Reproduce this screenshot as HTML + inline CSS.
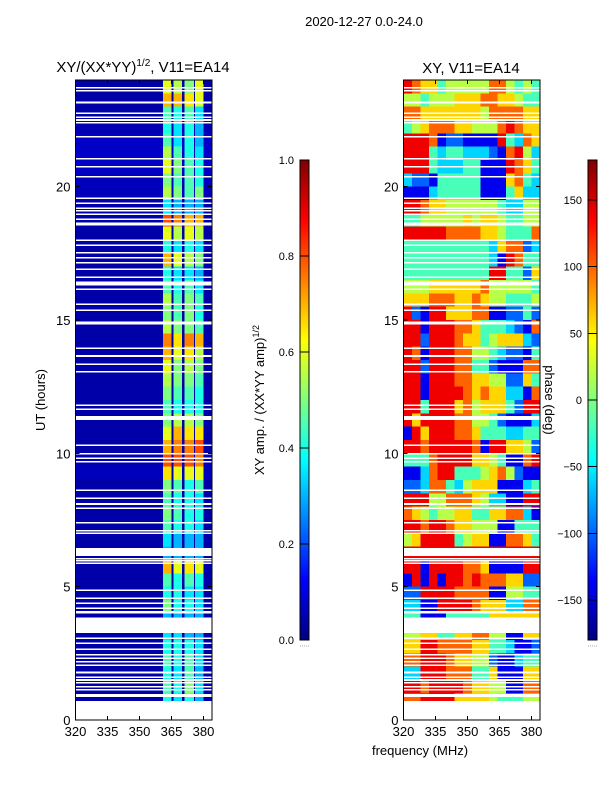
<!DOCTYPE html>
<html><head><meta charset="utf-8"><style>
body{margin:0;background:#fff;}
svg text{font-family:"Liberation Sans","DejaVu Sans",sans-serif;fill:#000;}
</style></head><body>
<svg id="fig" width="600" height="800" viewBox="0 0 600 800" xmlns="http://www.w3.org/2000/svg" shape-rendering="crispEdges">
<text x="364" y="26" font-size="13" text-anchor="middle">2020-12-27 0.0-24.0</text>
<text x="143" y="72" font-size="15" text-anchor="middle">XY/(XX*YY)<tspan font-size="10" dy="-6">1/2</tspan><tspan dy="6">, V11=EA14</tspan></text>
<text x="471" y="73" font-size="15" text-anchor="middle">XY, V11=EA14</text>
<text x="45" y="400" font-size="13" text-anchor="middle" transform="rotate(-90 45 400)">UT (hours)</text>
<text x="420" y="755" font-size="13" text-anchor="middle">frequency (MHz)</text>
<text x="264" y="400" font-size="13" text-anchor="middle" transform="rotate(-90 264 400)">XY amp. / (XX*YY amp)<tspan font-size="9" dy="-5">1/2</tspan></text>
<text x="545" y="400" font-size="13" text-anchor="middle" transform="rotate(90 545 400)">phase (deg)</text>
<defs>
<linearGradient id="jet" x1="0" y1="1" x2="0" y2="0">
<stop offset="0" stop-color="#00007f"/><stop offset="0.125" stop-color="#0000ff"/><stop offset="0.375" stop-color="#00ffff"/><stop offset="0.625" stop-color="#ffff00"/><stop offset="0.875" stop-color="#ff0000"/><stop offset="1" stop-color="#7f0000"/>
</linearGradient>
</defs>
<g id="left"></g>
<g id="right"></g>
<g id="axes"></g>
</svg>
<script>
// ---- data ----
const freqMin = 320, freqMax = 384;
const xTicks = [320, 335, 350, 365, 380];
const yTicks = [0, 5, 10, 15, 20];
const rowHours = 0.5;
const stripeBands = [[361, 365], [366, 370], [371, 375.5], [376, 380]];
const ampBackground = [0.04,0.04,0.04,0.05,0.07,0.07,0.07,0.06,0.06,0.04,0.04,0.04,0.04,0.04,0.04,0.04,0.04,0.04,0.04,0.04,0.04,0.04,0.04,0.04,0.04,0.04,0.04,0.04,0.05,0.06,0.04,0.04,0.04,0.04,0.04,0.04,0.04,0.04,0.04,0.04,0.04,0.04,0.04,0.04,0.04,0.04,0.04,0.04];
const stripeAmp = [
[.6,.55,.5,.6],[.7,.7,.65,.6],[.45,.4,.45,.35],[.4,.35,.4,.3],[.45,.35,.4,.3],[.55,.45,.4,.35],
[.6,.5,.45,.4],[.5,.45,.45,.4],[.55,.5,.45,.5],[.35,.3,.3,.3],[.8,.75,.7,.7],[.6,.55,.6,.55],
[.4,.35,.4,.35],[.7,.6,.55,.5],[.4,.35,.35,.3],[.45,.4,.45,.35],[.55,.45,.5,.45],[.5,.45,.5,.4],
[.55,.5,.5,.45],[.75,.65,.75,.7],[.7,.6,.65,.55],[.6,.5,.55,.5],[.55,.5,.5,.45],[.5,.45,.45,.4],
[.45,.4,.4,.4],[.5,.55,.55,.5],[.6,.7,.65,.65],[.7,.75,.75,.8],[.8,.8,.8,.75],[.65,.6,.6,.6],
[.5,.45,.4,.45],[.45,.4,.4,.35],[.5,.45,.4,.4],[.45,.4,.4,.35],[.35,.3,.3,.3],[.3,.3,.3,.3],
[.7,.6,.65,.6],[.45,.4,.45,.4],[.4,.4,.35,.35],[.5,.4,.4,.35],[.3,.3,.3,.3],[.35,.35,.3,.3],
[.4,.4,.4,.35],[.45,.4,.45,.35],[.4,.35,.45,.3],[.45,.4,.5,.35],[.4,.35,.4,.3],[.3,.3,.3,.3]];
// phase digit d -> -180 + d*40 deg; 16 columns of 4 MHz
const phaseRows = [
"8766455555775454","5545556667766544","7766666665777766","4567776655578766",
"8887122111184376","8884344333217853","8884333441118764","3221444441116743",
"1113444441114633","8876655555543355","4455555656654455","8888877776654447",
"4444444444367723","4444444444318744","4444444444884426","5556666667555554",
"6667776676554445","8218866677112242","8818887764443217","8828887664566632",
"8718887755432214","8828887744211177","8818887766552264","8818888767663317",
"8848886756664288","8688887755421113","1868887764443344","8878888871886652",
"4447888866541178","1137884445675211","2237743566611134","8885577765331188",
"7654556644667731","8878876655511444","5688884566117764","8888888888888888",
"8818888776111188","1818188787776622","2288887777115544","3311888876663377",
"4411144444666666","5566446677551166","6688777766443112","7788876655211344",
"3388877744611166","8878888766551177","7788886666544455","8888888888888888"];
const gapStart = [23.68,23.56,23.11,22.72,22.57,22.47,22.37,21.84,21.02,20.72,20.34,19.53,19.36,19.16,19.06,18.93,18.75,18.54,17.96,17.77,17.49,17.31,17.11,16.87,16.58,16.29,16.12,15.56,15.34,14.89,14.84,13.91,13.62,13.31,13.03,11.78,11.63,11.25,10.28,9.95,9.78,9.66,8.6,8.28,8.07,7.91,7.37,7.07,6.97,6.15,6.01,5.94,5.85,4.84,4.53,4.35,4.16,4.0,3.27,3.03,2.85,2.62,2.41,2.28,2.16,2.03,1.75,1.57,1.47,1.37,1.22,1.1,0.87,0];
const gapEnd =   [23.74,23.62,23.19,22.78,22.63,22.53,22.43,21.9,21.08,20.78,20.4,19.59,19.41,19.22,19.12,18.99,18.81,18.66,18.02,17.83,17.55,17.37,17.17,16.93,16.64,16.44,16.18,15.62,15.4,14.95,14.9,13.97,13.68,13.37,13.09,11.84,11.69,11.4,10.34,10.01,9.84,9.72,8.65,8.34,8.13,7.97,7.43,7.13,7.03,6.45,6.07,6.0,5.91,4.9,4.59,4.41,4.22,4.09,3.84,3.09,2.91,2.68,2.47,2.34,2.22,2.09,1.81,1.63,1.53,1.43,1.28,1.16,0.97,0.71];
const ampTicks = [0.0, 0.2, 0.4, 0.6, 0.8, 1.0];
const phaseTicks = [-150, -100, -50, 0, 50, 100, 150];

// ---- helpers ----
const NS = "http://www.w3.org/2000/svg";
const svg = document.getElementById('fig');
function mk(tag, attrs, parent){const e=document.createElementNS(NS,tag);for(const k in attrs)e.setAttribute(k,attrs[k]);(parent||svg).appendChild(e);return e;}
const stops=[[0,[0,0,127]],[0.125,[0,0,255]],[0.375,[0,255,255]],[0.625,[255,255,0]],[0.875,[255,0,0]],[1,[127,0,0]]];
function jet(v){v=Math.max(0,Math.min(1,v));for(let i=1;i<stops.length;i++){if(v<=stops[i][0]){const a=stops[i-1],b=stops[i];const t=(v-a[0])/(b[0]-a[0]);const c=a[1].map((x,j)=>Math.round(x+(b[1][j]-x)*t));return `rgb(${c[0]},${c[1]},${c[2]})`;}}return 'rgb(127,0,0)';}
const PY0=80, PY1=720;
function yScale(h){return PY1-(h/24)*(PY1-PY0);}
function makeX(x0){return f=>x0+(f-freqMin)*32/15;}
const leftX = makeX(75.5), rightX = makeX(403.5);

// ---- left heatmap ----
const gL=document.getElementById('left');
stripeAmp.forEach((row,i)=>{
  const hTop=24-i*rowHours, hBot=hTop-rowHours;
  const y=yScale(hTop), hh=yScale(hBot)-y;
  const bg=mk('rect',{x:leftX(freqMin),y:y,width:leftX(freqMax)-leftX(freqMin),height:hh+0.5,fill:jet(ampBackground[i])},gL);
  
  
  row.forEach((v,j)=>{
    const b=stripeBands[j];
    const r=mk('rect',{x:leftX(b[0]),y:y,width:leftX(b[1])-leftX(b[0]),height:hh+0.5,fill:jet(v)},gL);
    
    
  });
});
// ---- right heatmap ----
const gR=document.getElementById('right');
phaseRows.forEach((row,i)=>{
  const hTop=24-i*rowHours, hBot=hTop-rowHours;
  const y=yScale(hTop), hh=yScale(hBot)-y;
  const n=row.length, df=(freqMax-freqMin)/n;
  for(let j=0;j<n;j++){
    const ph=-180+parseInt(row[j])*40;
    const f0=freqMin+j*df;
    const r=mk('rect',{x:rightX(f0),y:y,width:rightX(f0+df)-rightX(f0)+0.5,height:hh+0.5,fill:jet((ph+180)/360)},gR);
    
    
  }
});
// ---- gaps ----
[[gL,leftX],[gR,rightX]].forEach(([g,xs])=>{
  gapStart.forEach((s,i)=>{
    const y=yScale(gapEnd[i]), hh=yScale(s)-y;
    const r=mk('rect',{x:xs(freqMin),y:y,width:xs(freqMax)-xs(freqMin),height:Math.max(1.5,hh),fill:'#fff'},g);
    
    
  });
});
// ---- axes ----
const gA=document.getElementById('axes');
[['left-axes',leftX],['right-axes',rightX]].forEach(([nm,xs])=>{
  const x0=xs(freqMin), x1=xs(freqMax);
  const fr=mk('rect',{x:x0,y:PY0,width:x1-x0,height:PY1-PY0,fill:'none',stroke:'#000','stroke-width':1},gA);
  
  
  xTicks.forEach(t=>{
    const x=xs(t);
    mk('line',{x1:x,y1:PY1,x2:x,y2:PY1-4,stroke:'#000'},gA);
    mk('line',{x1:x,y1:PY0,x2:x,y2:PY0+4,stroke:'#000'},gA);
    const tx=mk('text',{x:x,y:PY1+16,'font-size':13,'text-anchor':'middle'},gA);
    tx.textContent=t;
    
    
  });
  yTicks.forEach(t=>{
    const y=yScale(t);
    mk('line',{x1:x0,y1:y,x2:x0+4,y2:y,stroke:'#000'},gA);
    mk('line',{x1:x1,y1:y,x2:x1-4,y2:y,stroke:'#000'},gA);
    const tx=mk('text',{x:x0-5,y:y+5,'font-size':13,'text-anchor':'end'},gA);
    tx.textContent=t;
    
    
  });
});
// ---- colorbars ----
function colorbar(x, nm, ticks, vmin, vmax, fmt){
  const top=160,bot=640;
  const r=mk('rect',{x:x,y:top,width:9,height:bot-top,fill:'url(#jet)',stroke:'#000','stroke-width':1},gA);
  
  
  ticks.forEach(t=>{
    const y=bot-(t-vmin)/(vmax-vmin)*(bot-top);
    mk('line',{x1:x,y1:y,x2:x+9,y2:y,stroke:'#000','stroke-width':1},gA);
    const tx=mk('text',{x:x-6,y:y+4,'font-size':11,'text-anchor':'end'},gA);
    tx.textContent=fmt(t);
    
    
  });
  mk('line',{x1:x,y1:646,x2:x+9,y2:646,stroke:'#aaa','stroke-dasharray':'1 1'},gA);
}
colorbar(300,'amp-colorbar',ampTicks,0,1,t=>t.toFixed(1));
colorbar(588,'phase-colorbar',phaseTicks,-180,180,t=>t<0?'\u2212'+(-t):String(t));
</script>
</body></html>
